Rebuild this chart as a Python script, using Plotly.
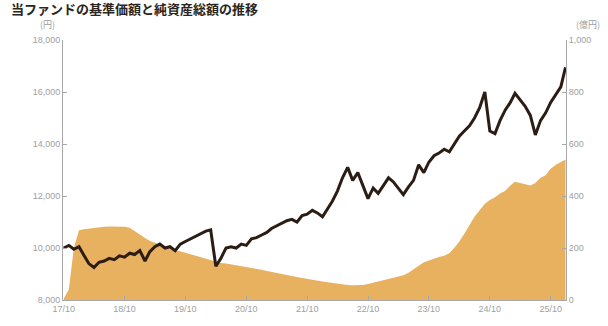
import plotly.graph_objects as go
import pandas as pd

# Monthly observations (first business day of each month), Oct 2017 - Dec 2025
dates = [d.strftime("%Y-%m-%d") for d in pd.date_range("2017-10-01", "2025-12-01", freq="MS")] + ["2025-12-29"]

# Net asset value per unit (円)
nav = [
    10000, 10100, 9950, 10050, 9700, 9400, 9250, 9450, 9500, 9600, 9550, 9700,
    9650, 9800, 9750, 9900, 9500, 9850, 10050, 10150, 10000, 10050, 9900, 10150,
    10250, 10350, 10450, 10550, 10650, 10700, 9300, 9600, 10000, 10050, 10000, 10150,
    10100, 10350, 10400, 10500, 10600, 10750, 10850, 10950, 11050, 11100, 11000, 11250,
    11300, 11450, 11350, 11200, 11500, 11800, 12200, 12700, 13100, 12600, 12900, 12400,
    11900, 12300, 12100, 12400, 12700, 12550, 12300, 12050, 12350, 12600, 13200, 12900,
    13300, 13550, 13650, 13800, 13700, 14000, 14300, 14500, 14700, 15000, 15400, 16000,
    14500, 14400, 14900, 15300, 15600, 15950, 15700, 15450, 15100, 14350, 14900, 15200,
    15600, 15900, 16200, 16950,
]

# Total net assets (億円)
assets = [
    5, 40, 200, 268, 272, 275, 278, 280, 282, 283, 283, 283,
    282, 278, 265, 250, 238, 228, 220, 212, 205, 198, 192, 188,
    182, 176, 170, 165, 158, 152, 145, 142, 140, 137, 134, 130,
    127, 123, 120, 116, 112, 108, 104, 100, 96, 92, 88, 85,
    81, 78, 74, 71, 68, 65, 62, 60, 58, 57, 57, 58,
    62, 67, 72, 77, 82, 87, 90, 95, 105, 118, 132, 145,
    152, 160, 165, 170, 180, 200, 225, 255, 290, 320, 345, 370,
    385, 395, 410, 420, 440, 455, 450, 445, 440, 450, 470, 480,
    505, 520, 530, 540,
]

tick_dates = [f"{y}-10-01" for y in range(2017, 2026)]
tick_text = [f"{y % 100}/10" for y in range(2017, 2026)]

left_ticks = [8000, 10000, 12000, 14000, 16000, 18000]
right_ticks = [0, 200, 400, 600, 800, 1000]

GREY = "#a8a8a8"
TICK_FONT = dict(family="Liberation Sans, Arial, sans-serif", size=9, color="#a0a0a0")

fig = go.Figure()

# Net assets as a filled area on the right-hand axis
fig.add_trace(go.Scatter(
    x=dates, y=assets, yaxis="y", mode="lines",
    line=dict(width=0, color="#E6AE5C"),
    fill="tozeroy", fillcolor="#E8B15F",
    hoverinfo="skip", showlegend=False,
))

# Unit price as a line on the left-hand axis (overlay, drawn on top)
fig.add_trace(go.Scatter(
    x=dates, y=nav, yaxis="y2", mode="lines",
    line=dict(width=3, color="#2b1c14"),
    showlegend=False,
))

fig.update_layout(
    width=608, height=326,
    margin=dict(l=63, r=42, t=40, b=24),
    paper_bgcolor="white", plot_bgcolor="white",
    xaxis=dict(
        type="date", range=["2017-09-27", "2026-01-01"],
        tickvals=tick_dates, ticktext=tick_text,
        ticks="inside", ticklen=4, tickcolor=GREY,
        showline=True, linecolor=GREY, linewidth=1,
        showgrid=False, zeroline=False, tickfont=TICK_FONT,
    ),
    yaxis=dict(
        side="right", range=[0, 1000],
        tickvals=right_ticks, ticktext=[f"{v:,}" for v in right_ticks],
        ticks="inside", ticklen=4, tickcolor=GREY,
        showline=True, linecolor=GREY, linewidth=1,
        showgrid=False, zeroline=False, tickfont=TICK_FONT,
    ),
    yaxis2=dict(
        overlaying="y", side="left", range=[8000, 18000],
        tickvals=left_ticks, ticktext=[f"{v:,}" for v in left_ticks],
        ticks="inside", ticklen=4, tickcolor=GREY,
        showline=True, linecolor=GREY, linewidth=1,
        showgrid=False, zeroline=False, tickfont=TICK_FONT,
    ),
    font=dict(family="Noto Sans CJK JP, sans-serif"),
)

fig.add_annotation(
    text="<b>当ファンドの基準価額と純資産総額の推移</b>",
    xref="paper", yref="paper", x=0, y=1, xanchor="left", yanchor="middle",
    xshift=-54, yshift=32, showarrow=False,
    font=dict(family="Noto Sans CJK JP", size=13, color="#2a2520"),
)
fig.add_annotation(
    text="(円)", xref="paper", yref="paper", x=0, y=1,
    xanchor="center", yanchor="middle", xshift=-16, yshift=16,
    showarrow=False, font=dict(family="Noto Sans CJK JP", size=9, color="#a0a0a0"),
)
fig.add_annotation(
    text="(億円)", xref="paper", yref="paper", x=1, y=1,
    xanchor="center", yanchor="middle", xshift=22, yshift=16,
    showarrow=False, font=dict(family="Noto Sans CJK JP", size=9, color="#a0a0a0"),
)

fig.write_html("out.html")
